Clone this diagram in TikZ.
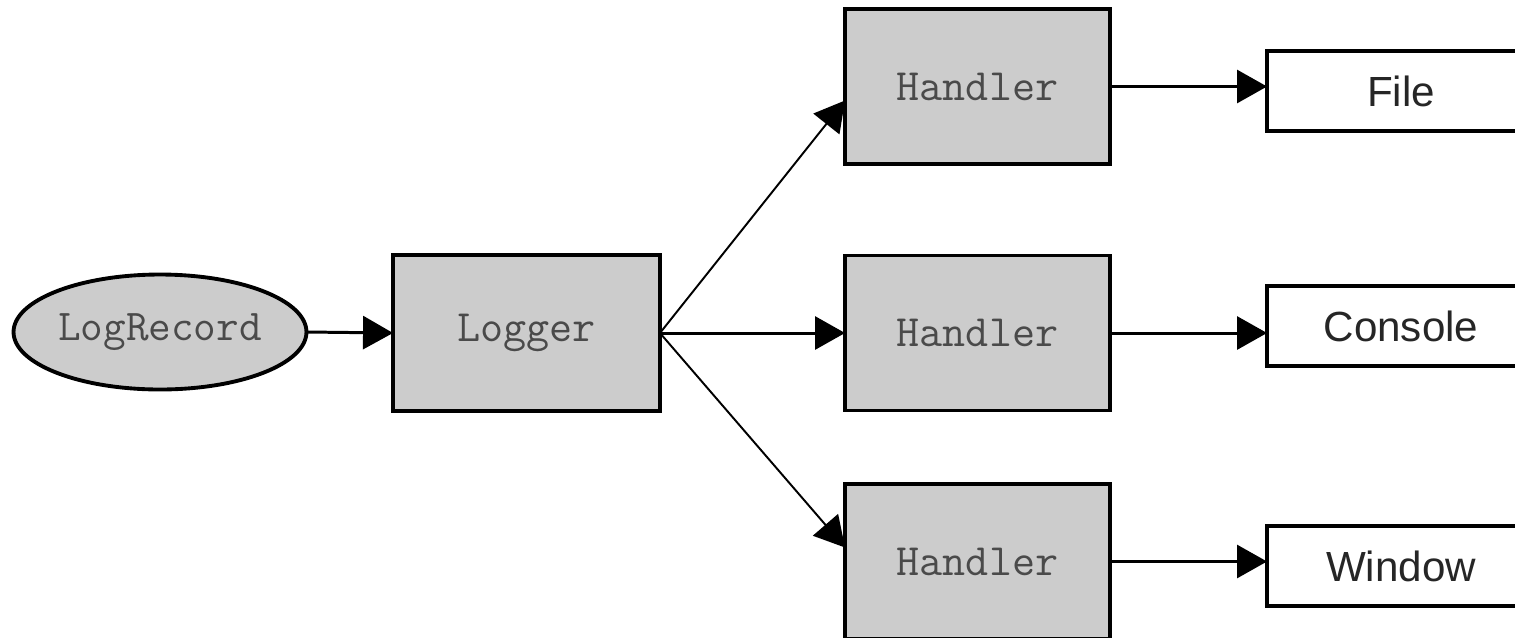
\documentclass[tikz,border=0pt]{standalone}
\usepackage{fontspec}
\setmainfont{Liberation Sans}
\usetikzlibrary{arrows.meta,shapes.geometric}
\definecolor{boxgray}{HTML}{CCCCCC}
\definecolor{monotext}{HTML}{4A4A4A}
\tikzset{
  graybox/.style={draw=black, fill=boxgray, line width=2.2pt, inner sep=0pt, outer sep=0pt,
    minimum width=5.3cm, minimum height=3.1cm, font=\ttfamily\fontsize{25.5}{27}\selectfont, text=monotext},
  whitebox/.style={draw=black, fill=white, line width=2.2pt, inner sep=0pt, outer sep=0pt,
    minimum width=5.36cm, minimum height=1.6cm, font=\fontsize{24}{26}\selectfont, text=black!85},
  recell/.style={ellipse, draw=black, fill=boxgray, line width=2.2pt, inner sep=0pt, outer sep=0pt,
    minimum width=5.86cm, minimum height=2.3cm, font=\ttfamily\fontsize{25}{27}\selectfont, text=monotext},
  conn/.style={line width=1.7pt, -{Triangle[length=0.6cm,width=0.66cm]}},
  diag/.style={line width=1.1pt, -{Triangle[length=0.6cm,width=0.66cm]}}
}
\begin{document}
\begin{tikzpicture}[x=0.02cm,y=-0.02cm]
\useasboundingbox (0,0) rectangle (1515,637);
\clip (0,0) rectangle (1515,637);
\node[recell] (rec) at (160,332) {LogRecord};
\node[graybox, minimum width=5.34cm, minimum height=3.12cm] (log) at (526.5,333) {Logger};
\node[graybox] (hT) at (977.5,86.5) {Handler};
\node[graybox] (hM) at (977.5,333) {Handler};
\node[graybox] (hB) at (977.5,561.5) {Handler};
\node[whitebox] (file) at (1401,91) {File};
\node[whitebox] (cons) at (1401,326) {Console};
\node[whitebox] (win) at (1401,566) {Window};
\draw[conn] (rec.east) -- (log.west);
\draw[conn] (log.east) -- (hM.west);
\draw[diag] (log.east) -- ([yshift=-0.28cm]hT.west);
\draw[diag] (log.east) -- ([yshift=0.28cm]hB.west);
\draw[conn] (hT.east) -- (hT.east -| file.west);
\draw[conn] (hM.east) -- (hM.east -| cons.west);
\draw[conn] (hB.east) -- (hB.east -| win.west);
\end{tikzpicture}
\end{document}
